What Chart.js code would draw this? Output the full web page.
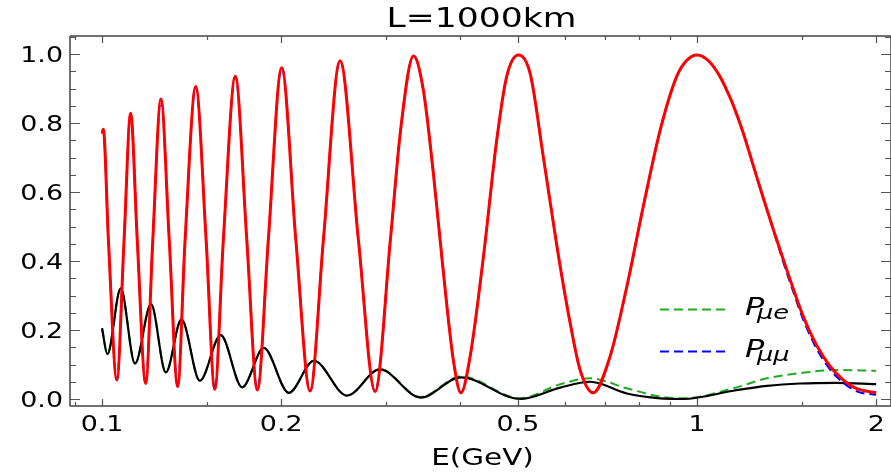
<!DOCTYPE html>
<html>
<head>
<meta charset="utf-8">
<title>L=1000km</title>
<script src="https://cdn.jsdelivr.net/npm/chart.js@4.4.1/dist/chart.umd.min.js"></script>
<style>
html, body { margin: 0; padding: 0; background: #fff; }
#wrap { width: 891px; height: 473px; }
</style>
</head>
<body>
<div id="wrap"><canvas id="chart" width="891" height="473"></canvas></div>
<script>
// values (E in GeV, probabilities)
const energyMuMu = [0.100, 0.1005, 0.1025, 0.1059, 0.1089, 0.1117, 0.1146, 0.1184, 0.1217, 0.1256,
    0.1297, 0.1340, 0.1379, 0.1437, 0.1496, 0.1547, 0.1599, 0.1675, 0.1751, 0.1824,
    0.1903, 0.2004, 0.2117, 0.2237, 0.2355, 0.2512, 0.2697, 0.2876, 0.3055, 0.3175,
    0.3338, 0.3467, 0.3604, 0.3748, 0.3894, 0.401, 0.4155, 0.4375, 0.4606, 0.4786,
    0.501, 0.524, 0.5515, 0.583, 0.612, 0.636, 0.669, 0.714, 0.762, 0.812,
    0.867, 0.924, 0.962, 1.0, 1.045, 1.093, 1.12, 1.151, 1.196, 1.243,
    1.292, 1.343, 1.396, 1.451, 1.509, 1.589, 1.673, 1.762, 1.855, 2.0];
// red solid curve
const pmmSolid = [0.770, 0.782, 0.461, 0.055, 0.461, 0.829, 0.461, 0.045, 0.461, 0.870,
    0.461, 0.036, 0.461, 0.906, 0.461, 0.028, 0.461, 0.936, 0.461, 0.026,
    0.461, 0.961, 0.461, 0.023, 0.461, 0.981, 0.461, 0.022, 0.470, 0.780,
    0.995, 0.896, 0.655, 0.365, 0.113, 0.018, 0.123, 0.413, 0.751, 0.935,
    0.998, 0.945, 0.703, 0.430, 0.220, 0.084, 0.018, 0.123, 0.326, 0.558,
    0.780, 0.935, 0.983, 0.998, 0.981, 0.935, 0.898, 0.851, 0.771, 0.677,
    0.583, 0.492, 0.405, 0.320, 0.239, 0.155, 0.095, 0.055, 0.030, 0.018];
// blue dashed curve (P_mumu)
const pmmDashed = [0.770, 0.782, 0.461, 0.055, 0.461, 0.829, 0.461, 0.045, 0.461, 0.870,
    0.461, 0.036, 0.461, 0.906, 0.461, 0.028, 0.461, 0.936, 0.461, 0.026,
    0.461, 0.961, 0.461, 0.023, 0.461, 0.981, 0.461, 0.022, 0.470, 0.780,
    0.995, 0.896, 0.655, 0.365, 0.113, 0.018, 0.123, 0.413, 0.751, 0.935,
    0.998, 0.945, 0.703, 0.430, 0.220, 0.084, 0.018, 0.123, 0.326, 0.558,
    0.780, 0.935, 0.983, 0.998, 0.981, 0.935, 0.898, 0.851, 0.771, 0.677,
    0.583, 0.490, 0.397, 0.311, 0.229, 0.145, 0.086, 0.047, 0.022, 0.012];

const energyMuE = [0.100, 0.1021, 0.1075, 0.1136, 0.1209, 0.128, 0.136, 0.146, 0.1583, 0.172,
    0.187, 0.206, 0.227, 0.258, 0.293, 0.343, 0.401, 0.504, 0.589, 0.661,
    0.762, 0.867, 0.948, 1.151, 1.31, 1.49, 1.71, 2.0];
// black solid curve
const pmeSolid = [0.205, 0.130, 0.321, 0.103, 0.275, 0.077, 0.231, 0.053, 0.185, 0.034,
    0.148, 0.018, 0.111, 0.010, 0.086, 0.004, 0.063, 0.000, 0.033, 0.050,
    0.016, 0.002, 0.000, 0.024, 0.038, 0.045, 0.047, 0.043];
// green dashed curve (P_mue)
const pmeDashed = [0.205, 0.130, 0.321, 0.103, 0.275, 0.077, 0.231, 0.053, 0.185, 0.034,
    0.148, 0.018, 0.111, 0.010, 0.087, 0.006, 0.066, 0.002, 0.043, 0.060,
    0.031, 0.007, 0.002, 0.031, 0.060, 0.075, 0.084, 0.082];

const xMajorTicks = [0.1, 0.2, 0.5, 1, 2];
const xMajorLabels = ["0.1", "0.2", "0.5", "1", "2"];
const xMinorTicks = [0.09, 0.15, 0.3, 0.4, 0.6, 0.7, 0.8, 0.9, 1.5];
const yMajorTicks = [0, 0.2, 0.4, 0.6, 0.8, 1.0];
const yMajorLabels = ["0.0", "0.2", "0.4", "0.6", "0.8", "1.0"];
const yMinorTicks = [0.05, 0.1, 0.15, 0.25, 0.3, 0.35, 0.45, 0.5, 0.55, 0.65, 0.7, 0.75, 0.85, 0.9, 0.95, 1.05];

const FONT = '"DejaVu Sans", sans-serif';
const STRETCH = 1.28;

function pts(xs, ys) {
    return xs.map((x, i) => ({ x: x, y: ys[i] }));
}

function stretchText(ctx, text, x, y, font, align) {
    ctx.save();
    ctx.font = font;
    ctx.fillStyle = '#000';
    ctx.textAlign = align;
    ctx.textBaseline = 'alphabetic';
    ctx.translate(x, y);
    ctx.scale(STRETCH, 1);
    ctx.fillText(text, 0, 0);
    ctx.restore();
}

// frame, inward ticks, labels, title, legend
const framePlugin = {
    id: 'frame',
    afterDraw(chart) {
        const ctx = chart.ctx;
        const a = chart.chartArea;
        const xs = chart.scales.x, ys = chart.scales.y;
        ctx.save();
        ctx.strokeStyle = '#444';
        ctx.lineWidth = 1.5;
        ctx.beginPath();
        ctx.moveTo(a.left, a.top); ctx.lineTo(a.right, a.top);
        ctx.moveTo(a.left, a.bottom); ctx.lineTo(a.right, a.bottom);
        ctx.moveTo(a.left, a.top); ctx.lineTo(a.left, a.bottom);
        ctx.moveTo(a.right, a.top); ctx.lineTo(a.right, a.bottom);
        ctx.stroke();

        ctx.lineWidth = 1.2;
        ctx.strokeStyle = '#555';
        ctx.beginPath();
        xMajorTicks.forEach(v => {
            const p = Math.round(xs.getPixelForValue(v)) + 0.5;
            ctx.moveTo(p, a.bottom); ctx.lineTo(p, a.bottom - 7);
            ctx.moveTo(p, a.top); ctx.lineTo(p, a.top + 7);
        });
        xMinorTicks.forEach(v => {
            const p = Math.round(xs.getPixelForValue(v)) + 0.5;
            ctx.moveTo(p, a.bottom); ctx.lineTo(p, a.bottom - 4);
            ctx.moveTo(p, a.top); ctx.lineTo(p, a.top + 4);
        });
        yMajorTicks.forEach(v => {
            const p = Math.round(ys.getPixelForValue(v)) + 0.5;
            ctx.moveTo(a.left, p); ctx.lineTo(a.left + 10, p);
            ctx.moveTo(a.right, p); ctx.lineTo(a.right - 10, p);
        });
        yMinorTicks.forEach(v => {
            const p = Math.round(ys.getPixelForValue(v)) + 0.5;
            ctx.moveTo(a.left, p); ctx.lineTo(a.left + 6, p);
            ctx.moveTo(a.right, p); ctx.lineTo(a.right - 6, p);
        });
        ctx.stroke();

        const tickFont = '21px ' + FONT;
        xMajorTicks.forEach((v, i) => {
            stretchText(ctx, xMajorLabels[i], xs.getPixelForValue(v), a.bottom + 25, tickFont, 'center');
        });
        yMajorTicks.forEach((v, i) => {
            stretchText(ctx, yMajorLabels[i], a.left - 7, ys.getPixelForValue(v) + 8, tickFont, 'right');
        });
        stretchText(ctx, 'E(GeV)', (a.left + a.right) / 2 + 2, 465, '23px ' + FONT, 'center');
        stretchText(ctx, 'L=1000km', (a.left + a.right) / 2 + 1, 27, '27px ' + FONT, 'center');

        // legend
        const items = [
            { sub: 'μe', color: '#22aa22', y: 309.5 },
            { sub: 'μμ', color: '#0000ff', y: 351.5 }
        ];
        items.forEach(it => {
            ctx.save();
            ctx.strokeStyle = it.color;
            ctx.lineWidth = 2;
            ctx.setLineDash([9, 5]);
            ctx.beginPath();
            ctx.moveTo(660, it.y); ctx.lineTo(726, it.y);
            ctx.stroke();
            ctx.restore();
            stretchText(ctx, 'P', 745, it.y + 5, 'italic 25px ' + FONT, 'left');
            stretchText(ctx, it.sub, 757, it.y + 9, 'italic 20px ' + FONT, 'left');
        });
        ctx.restore();
    }
};

const ctx = document.getElementById('chart').getContext('2d');
const chart = new Chart(ctx, {
    type: 'line',
    data: {
        datasets: [
            { data: pts(energyMuMu, pmmSolid), borderColor: '#ff0000', borderWidth: 3 },
            { data: pts(energyMuMu, pmmDashed), borderColor: '#0000ff', borderWidth: 2, borderDash: [9, 5] },
            { data: pts(energyMuE, pmeSolid), borderColor: '#000000', borderWidth: 2.2 },
            { data: pts(energyMuE, pmeDashed), borderColor: '#22aa22', borderWidth: 2, borderDash: [9, 5] }
        ]
    },
    options: {
        responsive: false,
        animation: false,
        layout: { padding: { left: 70, top: 36, right: 0, bottom: 67 } },
        elements: {
            point: { radius: 0 },
            line: { cubicInterpolationMode: 'monotone', fill: false }
        },
        scales: {
            x: { type: 'logarithmic', min: 0.08834, max: 2.118, display: false },
            y: { type: 'linear', min: -0.0203, max: 1.0528, display: false }
        },
        plugins: {
            legend: { display: false },
            tooltip: { enabled: false }
        }
    },
    plugins: [framePlugin]
});
</script>
</body>
</html>
